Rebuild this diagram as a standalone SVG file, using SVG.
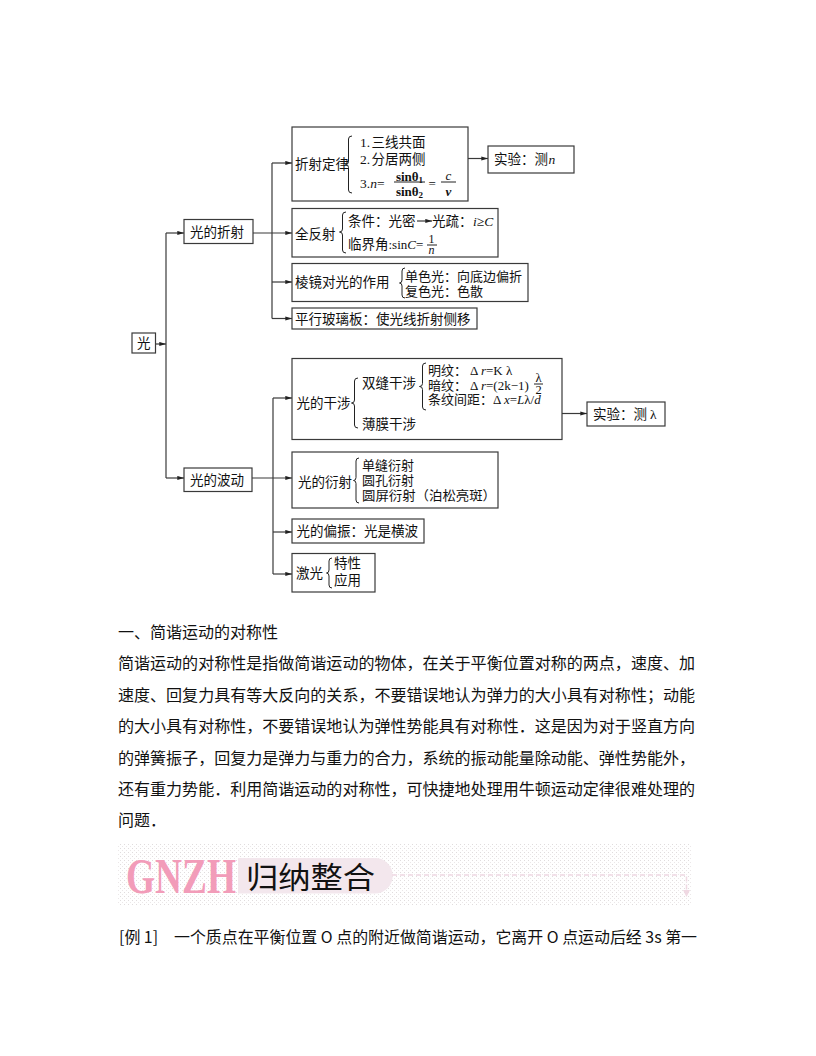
<svg xmlns="http://www.w3.org/2000/svg" width="816" height="1056" viewBox="0 0 816 1056">
<style>
.box{fill:#fff;stroke:#3a3a3a;stroke-width:1.2}
.ln{fill:none;stroke:#3a3a3a;stroke-width:1.2}
.br{fill:none;stroke:#222;stroke-width:1}
.t{font-family:"Noto Sans CJK SC",sans-serif;font-size:13.5px;fill:#111}
.s{font-size:13px}
.m{font-family:"Liberation Serif",serif;fill:#111}
.i{font-style:italic}
.p{font-family:"Noto Sans CJK SC",sans-serif;font-size:16px;fill:#111}
</style>
<defs>
<marker id="ah" viewBox="0 0 8 6" refX="8" refY="3" markerWidth="7" markerHeight="5" markerUnits="userSpaceOnUse" orient="auto"><path d="M0,0.5 L8,3 L0,5.5 Z" fill="#222"/></marker>
<pattern id="dots" width="4" height="4" patternUnits="userSpaceOnUse"><rect x="0" y="0" width="1" height="1" fill="#e0dcdd"/><rect x="2" y="2" width="1" height="1" fill="#ebe7e8"/></pattern>
</defs>
<rect width="816" height="1056" fill="#fff"/>

<g id="connectors">
<path class="ln" d="M155.5,344 H166" marker-end="url(#ah)"/>
<path class="ln" d="M166,233 V478"/>
<path class="ln" d="M166,233 H184" marker-end="url(#ah)"/>
<path class="ln" d="M166,478 H184" marker-end="url(#ah)"/>
<path class="ln" d="M253,233 H292" marker-end="url(#ah)"/>
<path class="ln" d="M272,163 V318.5"/>
<path class="ln" d="M272,163 H292" marker-end="url(#ah)"/>
<path class="ln" d="M272,282 H292" marker-end="url(#ah)"/>
<path class="ln" d="M272,318.5 H292" marker-end="url(#ah)"/>
<path class="ln" d="M468,158.5 H488" marker-end="url(#ah)"/>
<path class="ln" d="M252,478 H292" marker-end="url(#ah)"/>
<path class="ln" d="M273,398 V574"/>
<path class="ln" d="M273,398 H292" marker-end="url(#ah)"/>
<path class="ln" d="M273,532 H292" marker-end="url(#ah)"/>
<path class="ln" d="M273,574 H292" marker-end="url(#ah)"/>
<path class="ln" d="M562,413.5 H587" marker-end="url(#ah)"/>
</g>

<g id="n-guang">
<rect class="box" x="132" y="333" width="23.5" height="20"/>
<text class="t" x="137" y="348">光</text>
</g>

<g id="n-zheshe">
<rect class="box" x="184" y="219.5" width="69" height="24"/>
<text class="t" x="190" y="236.5">光的折射</text>
</g>

<g id="n-bodong">
<rect class="box" x="184" y="468" width="68" height="23.5"/>
<text class="t" x="190" y="485">光的波动</text>
</g>

<g id="n-dinglv">
<rect class="box" x="292" y="127" width="176" height="74"/>
<text class="t" x="295" y="169">折射定律</text>
<path class="br" d="M352,136 Q348.5,136 348.5,139 V161.5 Q348.5,164.5 345.5,164.5 Q348.5,164.5 348.5,167.5 V190 Q348.5,193 352,193"/>
<text class="m" x="360" y="146.5" font-size="13.5">1.</text>
<text class="t" x="371.5" y="146.5">三线共面</text>
<text class="m" x="360" y="164" font-size="13.5">2.</text>
<text class="t" x="371.5" y="164">分居两侧</text>
<text class="m" x="360" y="188" font-size="13.5">3.<tspan class="i">n</tspan>=</text>
<text class="m" x="409.5" y="180.5" font-size="13" font-weight="bold" text-anchor="middle">sinθ<tspan font-size="9" dy="2">1</tspan></text>
<path class="br" d="M394,182 H425"/>
<text class="m" x="409.5" y="195.5" font-size="13" font-weight="bold" text-anchor="middle">sinθ<tspan font-size="9" dy="2">2</tspan></text>
<text class="m" x="428.5" y="187.5" font-size="13">=</text>
<text class="m i" x="448.5" y="179.5" font-size="13" text-anchor="middle">c</text>
<path class="br" d="M441,182 H456"/>
<text class="m i" x="448.5" y="195.5" font-size="13" font-weight="bold" text-anchor="middle">v</text>
</g>

<g id="n-shiyan1">
<rect class="box" x="488" y="146" width="86" height="27"/>
<text class="t" x="494" y="163.5">实验：测</text>
<text class="m i" x="548.5" y="163.5" font-size="13.5">n</text>
</g>

<g id="n-quanfanshe">
<rect class="box" x="292" y="208.5" width="206" height="48.5"/>
<text class="t" x="295" y="238.5">全反射</text>
<path class="br" d="M346,212 Q342.5,212 342.5,215 V229 Q342.5,232 339.5,232 Q342.5,232 342.5,235 V250 Q342.5,253 346,253"/>
<text class="t" x="348" y="226">条件：光密</text>
<path class="ln" d="M417,221 H432" marker-end="url(#ah)"/>
<text class="t" x="432" y="226">光疏：</text>
<text class="m i" x="473" y="226" font-size="13.5">i<tspan font-style="normal">≥</tspan>C</text>
<text class="t" x="348" y="249">临界角</text>
<text class="m" x="388.5" y="249" font-size="13">:sin<tspan class="i">C</tspan>=</text>
<text class="m" x="431.5" y="243" font-size="12" text-anchor="middle">1</text>
<path class="br" d="M427,245 H437"/>
<text class="m i" x="431.5" y="254" font-size="12" text-anchor="middle">n</text>
</g>

<g id="n-lengjing">
<rect class="box" x="292" y="263.5" width="236" height="38"/>
<text class="t" x="295" y="286.5">棱镜对光的作用</text>
<path class="br" d="M405,268 Q402,268 402,271 V280 Q402,283 399.5,283 Q402,283 402,286 V295 Q402,298 405,298"/>
<text class="t s" x="405" y="281">单色光：向底边偏折</text>
<text class="t s" x="405" y="296">复色光：色散</text>
</g>

<g id="n-pingxing">
<rect class="box" x="292" y="308" width="185" height="21"/>
<text class="t" x="295" y="323.5">平行玻璃板：使光线折射侧移</text>
</g>

<g id="n-ganshe">
<rect class="box" x="292" y="358.5" width="270" height="81"/>
<text class="t" x="296.5" y="407.5">光的干涉</text>
<path class="br" d="M358,378 Q354.5,378 354.5,381 V400 Q354.5,403 351.5,403 Q354.5,403 354.5,406 V425 Q354.5,428 358,428"/>
<text class="t" x="362" y="388">双缝干涉</text>
<text class="t" x="362" y="429">薄膜干涉</text>
<path class="br" d="M426,363 Q422.5,363 422.5,366 V383.5 Q422.5,386.5 419.5,386.5 Q422.5,386.5 422.5,389.5 V407 Q422.5,410 426,410"/>
<text class="t s" x="428" y="375">明纹：</text>
<text class="m" x="470" y="375" font-size="13">Δ <tspan class="i">r</tspan>=K λ</text>
<text class="t s" x="428" y="389.5">暗纹：</text>
<text class="m" x="470" y="389.5" font-size="13">Δ <tspan class="i">r</tspan>=(2k−1)</text>
<text class="m" x="538.5" y="381.5" font-size="12.5" text-anchor="middle">λ</text>
<path class="br" d="M534,384 H543"/>
<text class="m" x="538.5" y="393.5" font-size="12.5" text-anchor="middle">2</text>
<text class="t s" x="428" y="404">条纹间距：</text>
<text class="m" x="493" y="404" font-size="13">Δ <tspan class="i">x</tspan>=<tspan class="i">L</tspan>λ/<tspan class="i">d</tspan></text>
</g>

<g id="n-shiyan2">
<rect class="box" x="587" y="402" width="78" height="24"/>
<text class="t" x="593" y="419">实验：测</text>
<text class="m" x="650" y="419" font-size="13.5">λ</text>
</g>

<g id="n-yanshe">
<rect class="box" x="292" y="452" width="206" height="56"/>
<text class="t" x="298" y="486.5">光的衍射</text>
<path class="br" d="M359,458 Q356,458 356,461 V477.5 Q356,480.5 353.5,480.5 Q356,480.5 356,483.5 V500 Q356,503 359,503"/>
<text class="t s" x="362" y="470">单缝衍射</text>
<text class="t s" x="362" y="485">圆孔衍射</text>
<text class="t s" x="362" y="500" textLength="134" lengthAdjust="spacingAndGlyphs">圆屏衍射（泊松亮斑）</text>
</g>

<g id="n-pianzhen">
<rect class="box" x="292" y="519" width="132" height="24"/>
<text class="t" x="296.5" y="536">光的偏振：光是横波</text>
</g>

<g id="n-jiguang">
<rect class="box" x="292" y="553.5" width="83" height="38.5"/>
<text class="t" x="296" y="578">激光</text>
<path class="br" d="M332,558 Q329,558 329,561 V570 Q329,573 326.5,573 Q329,573 329,576 V585 Q329,588 332,588"/>
<text class="t" x="334" y="568">特性</text>
<text class="t" x="334" y="585">应用</text>
</g>

<g id="body-text">
<text class="p" x="118" y="638">一、简谐运动的对称性</text>
<text class="p" x="118" y="669" textLength="577" lengthAdjust="spacingAndGlyphs">简谐运动的对称性是指做简谐运动的物体，在关于平衡位置对称的两点，速度、加</text>
<text class="p" x="118" y="700.5" textLength="577" lengthAdjust="spacingAndGlyphs">速度、回复力具有等大反向的关系，不要错误地认为弹力的大小具有对称性；动能</text>
<text class="p" x="118" y="732" textLength="577" lengthAdjust="spacingAndGlyphs">的大小具有对称性，不要错误地认为弹性势能具有对称性．这是因为对于竖直方向</text>
<text class="p" x="118" y="763.5" textLength="577" lengthAdjust="spacingAndGlyphs">的弹簧振子，回复力是弹力与重力的合力，系统的振动能量除动能、弹性势能外，</text>
<text class="p" x="118" y="795" textLength="577" lengthAdjust="spacingAndGlyphs">还有重力势能．利用简谐运动的对称性，可快捷地处理用牛顿运动定律很难处理的</text>
<text class="p" x="118" y="826">问题．</text>
</g>

<g id="banner">
<rect x="118" y="843" width="574" height="63" fill="url(#dots)"/>
<text x="126" y="893" font-family="Liberation Serif" font-size="50" font-weight="bold" fill="#f29cb9" textLength="110" lengthAdjust="spacingAndGlyphs">GNZH</text>
<path d="M238,858 H375 A17.5,17.5 0 0 1 375,893.5 H238 Z" fill="#f3e7ed"/>
<text x="246" y="888" font-family="Noto Sans CJK SC,sans-serif" font-size="30" fill="#111" textLength="129" lengthAdjust="spacingAndGlyphs">归纳整合</text>
<path d="M392,875 H686.5 V891" fill="none" stroke="#f0d9e3" stroke-width="1.5" stroke-dasharray="5,3"/>
<path d="M683,890 L690,890 L686.5,897 Z" fill="#f0d9e3"/>
</g>

<g id="example">
<text class="p" x="119" y="943" textLength="578" lengthAdjust="spacingAndGlyphs">[例 1]　一个质点在平衡位置 O 点的附近做简谐运动，它离开 O 点运动后经 3s 第一</text>
</g>
</svg>
